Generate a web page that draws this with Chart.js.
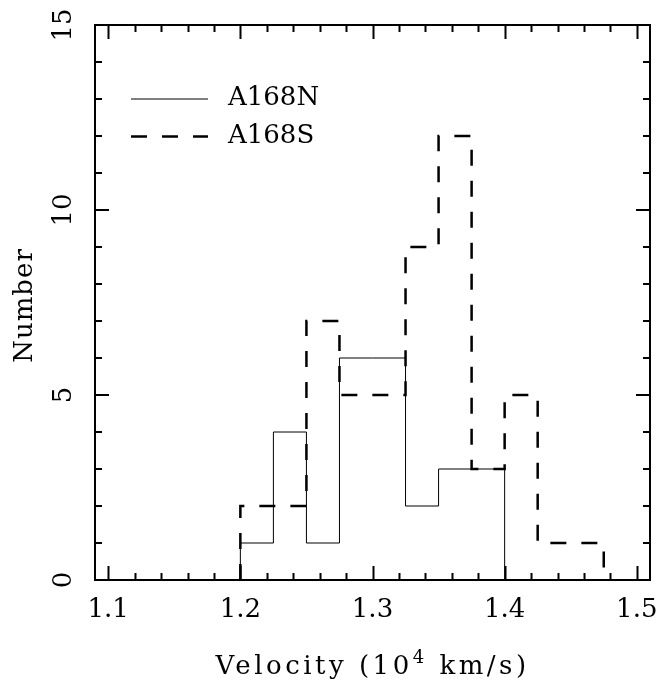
<!DOCTYPE html>
<html>
<head>
  <title>A168 velocity histogram</title>
  <script src="https://cdn.jsdelivr.net/npm/chart.js"></script>
  <style>
    body { margin: 0; background: #fff; }
  </style>
</head>
<body>
  <canvas id="myChart" width="660" height="683"></canvas>
  <script>
    // bin edges (10^4 km/s) and counts per bin
    const edgesN = [1.2, 1.225, 1.25, 1.275, 1.3, 1.325, 1.35, 1.375, 1.4];
    const countsN = [1, 4, 1, 6, 6, 2, 3, 3];
    const edgesS = [1.2, 1.225, 1.25, 1.275, 1.3, 1.325, 1.35, 1.375, 1.4, 1.425, 1.45, 1.475];
    const countsS = [2, 2, 7, 5, 5, 9, 12, 3, 5, 1, 1];
    const xTicks = [1.1, 1.2, 1.3, 1.4, 1.5];
    const yTicks = [0, 5, 10, 15];
    const xMinorStep = 0.02;
    const yMinorStep = 1;

    function steps(edges, counts) {
      const pts = [{x: edges[0], y: 0}];
      counts.forEach((c, i) => pts.push({x: edges[i], y: c}));
      pts.push({x: edges[edges.length - 1], y: 0});
      return pts;
    }

    function noPad(s) {
      s.paddingLeft = s.paddingRight = s.paddingTop = s.paddingBottom = 0;
    }

    Chart.defaults.font.family = '"DejaVu Serif"';
    Chart.defaults.color = '#000';

    const framePlugin = {
      id: 'frame',
      afterDraw(chart) {
        const ctx = chart.ctx;
        const a = chart.chartArea;
        const xs = chart.scales.x, ys = chart.scales.y;
        ctx.save();
        ctx.strokeStyle = '#000';
        ctx.lineWidth = 2;
        ctx.strokeRect(a.left, a.top, a.right - a.left, a.bottom - a.top);
        // x ticks, top and bottom, pointing in
        const nx = Math.round((xTicks[xTicks.length - 1] - xTicks[0]) / xMinorStep);
        for (let i = 0; i <= nx; i++) {
          const v = xTicks[0] + i * xMinorStep;
          const len = (i % 5 === 0) ? 14 : 7;
          const px = Math.round(xs.getPixelForValue(v)) + 0.5;
          ctx.beginPath();
          ctx.moveTo(px, a.bottom); ctx.lineTo(px, a.bottom - len);
          ctx.moveTo(px, a.top); ctx.lineTo(px, a.top + len);
          ctx.stroke();
        }
        const ny = Math.round((yTicks[yTicks.length - 1] - yTicks[0]) / yMinorStep);
        for (let i = 0; i <= ny; i++) {
          const v = yTicks[0] + i * yMinorStep;
          const len = (i % 5 === 0) ? 14 : 7;
          const py = Math.round(ys.getPixelForValue(v));
          ctx.beginPath();
          ctx.moveTo(a.left, py); ctx.lineTo(a.left + len, py);
          ctx.moveTo(a.right, py); ctx.lineTo(a.right - len, py);
          ctx.stroke();
        }

        // legend
        chart.data.datasets.forEach((ds, i) => {
          const ly = a.top + 74 + i * 37.5;
          ctx.beginPath();
          ctx.lineWidth = ds.borderWidth;
          ctx.setLineDash(ds.borderDash || []);
          ctx.moveTo(a.left + 36, ly);
          ctx.lineTo(a.left + 113, ly);
          ctx.stroke();
          ctx.setLineDash([]);
          ctx.fillStyle = '#000';
          ctx.font = '26px "DejaVu Serif"';
          ctx.textAlign = 'left';
          ctx.textBaseline = 'alphabetic';
          ctx.fillText(ds.label, a.left + 133, ly + 6);
        });

        // axis titles
        ctx.fillStyle = '#000';
        ctx.letterSpacing = '3.5px';
        ctx.textBaseline = 'alphabetic';
        ctx.textAlign = 'left';
        const big = '26px "DejaVu Serif"', small = '18px "DejaVu Serif"';
        const t1 = 'Velocity (10', t2 = '4', t3 = ' km/s)';
        ctx.font = big;
        const w1 = ctx.measureText(t1).width, w3 = ctx.measureText(t3).width;
        ctx.font = small;
        const w2 = ctx.measureText(t2).width;
        let tx = (a.left + a.right) / 2 - (w1 + w2 + w3) / 2;
        const ty = 674;
        ctx.font = big; ctx.fillText(t1, tx, ty); tx += w1;
        ctx.font = small; ctx.fillText(t2, tx, ty - 11); tx += w2;
        ctx.font = big; ctx.fillText(t3, tx, ty);

        ctx.letterSpacing = '1px';
        ctx.translate(32, (a.top + a.bottom) / 2 + 3);
        ctx.rotate(-Math.PI / 2);
        ctx.textAlign = 'center';
        ctx.font = big;
        ctx.fillText('Number', 0, 0);
        ctx.restore();
      }
    };

    const ctx = document.getElementById('myChart').getContext('2d');
    const chart = new Chart(ctx, {
      type: 'line',
      data: {
        datasets: [{
          label: 'A168N',
          data: steps(edgesN, countsN),
          stepped: 'before',
          borderColor: '#000',
          borderWidth: 1,
          pointRadius: 0,
          fill: false
        }, {
          label: 'A168S',
          data: steps(edgesS, countsS),
          stepped: 'before',
          borderColor: '#000',
          borderWidth: 2.5,
          borderDash: [16, 15],
          pointRadius: 0,
          fill: false
        }]
      },
      options: {
        responsive: false,
        animation: false,
        layout: { padding: { top: 25, right: 10, left: 0, bottom: 0 } },
        plugins: {
          legend: { display: false },
          tooltip: { enabled: false }
        },
        scales: {
          x: {
            type: 'linear',
            min: 1.09,
            max: 1.51,
            grid: { display: false, drawTicks: false },
            border: { display: false },
            afterBuildTicks: (s) => { s.ticks = xTicks.map(v => ({value: v})); },
            ticks: {
              font: { size: 26 },
              padding: 15,
              maxRotation: 0,
              callback: (v) => v.toFixed(1)
            },
            afterFit: (s) => { s.height = 103; noPad(s); }
          },
          y: {
            min: 0,
            max: 15,
            grid: { display: false, drawTicks: false },
            border: { display: false },
            afterBuildTicks: (s) => { s.ticks = yTicks.map(v => ({value: v})); },
            ticks: {
              font: { size: 26 },
              padding: 14,
              minRotation: 90,
              maxRotation: 90,
              crossAlign: 'center'
            },
            afterFit: (s) => { s.width = 95; noPad(s); }
          }
        }
      },
      plugins: [framePlugin]
    });
  </script>
</body>
</html>
